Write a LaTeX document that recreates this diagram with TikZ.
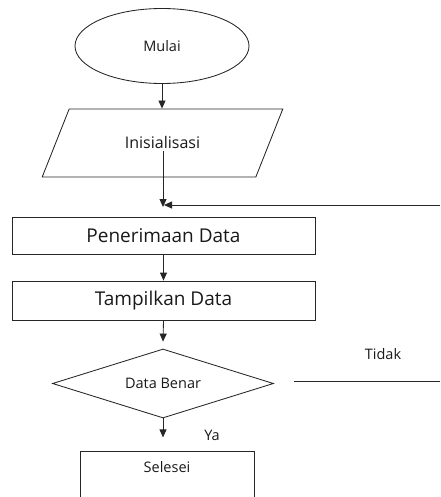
\documentclass[tikz,border=0pt]{standalone}
\usepackage{fontspec}
\setmainfont{Open Sans}
\usetikzlibrary{shapes.geometric,arrows.meta}
\tikzset{
  flow/.style={draw=black!85,line width=0.85pt},
  arr/.style={flow,-{Triangle[length=8pt,width=7pt]}},
  small/.style={text=black!90,font=\fontsize{14.5}{16}\selectfont},
  proc/.style={flow,rectangle,inner sep=0pt,text=black!90,font=\fontsize{19}{22}\selectfont},
}

\begin{document}
\begin{tikzpicture}[x=1pt,y=-1pt]
\path[use as bounding box,clip] (0,0) rectangle (440,497);

\node[flow,ellipse,small,minimum width=174,minimum height=75,inner sep=0pt] (mulai) at (162,46) {Mulai};
\node[flow,trapezium,trapezium left angle=48.6,trapezium right angle=131.4,trapezium stretches=true,
      minimum width=241,minimum height=68,inner sep=0pt,small,font=\fontsize{16}{18}\selectfont] (init) at (162.5,143) {Inisialisasi};
\node[proc,minimum width=303,minimum height=37] (terima) at (163.5,235.5) {Penerimaan Data};
\node[proc,minimum width=303,minimum height=39] (tampil) at (163.5,300.5) {Tampilkan Data};
\node[flow,diamond,aspect=3.2,minimum width=221,minimum height=69,inner sep=0pt,small] (cek) at (163,383.5) {Data Benar};
\node[flow,rectangle,minimum width=174,minimum height=70,anchor=north,
      label={[small,anchor=center,yshift=-16pt]north:Selesei}] (selesai) at (167,451) {};

\coordinate (j1) at (163,207);
\coordinate (r1) at (440,205);
\coordinate (r2) at (440,381);

\draw[arr] (mulai.south) -- (mulai.south |- init.north);
\draw[arr] ([yshift=-8pt]init.center -| j1) -- (j1);
\draw[arr] (r1) -- ([xshift=1pt]r1 -| j1);
\draw[arr] (terima) -- (tampil);
\draw[arr] (tampil.south) -- ([yshift=7pt]cek.north);
\draw[arr] (cek.south) -- ++(0,19);
\draw[flow] ([xshift=20pt]cek.east |- r2) -- (r2);

\node[small] (tidak) at (383,354) {Tidak};
\node[small] (ya) at (212,435) {Ya};
\end{tikzpicture}
\end{document}
